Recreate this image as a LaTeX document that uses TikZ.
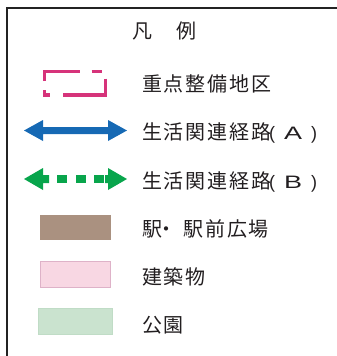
\documentclass[tikz,border=0pt]{standalone}
\usepackage{fontspec}
\usepackage{graphicx}
\newfontfamily\cjk[LetterSpace=9]{Noto Sans CJK JP}
\newfontfamily\cjkplain{Noto Sans CJK JP}
\newfontfamily\lat{Liberation Sans}
\definecolor{framec}{RGB}{35,35,35}
\definecolor{txt}{RGB}{34,30,32}
\definecolor{mag}{RGB}{214,51,122}
\definecolor{blu}{RGB}{22,105,180}
\definecolor{grn}{RGB}{8,165,76}
\definecolor{brn}{RGB}{170,145,128}
\definecolor{pinkf}{RGB}{248,215,227}
\definecolor{pinkd}{RGB}{222,178,200}
\definecolor{lgf}{RGB}{202,227,207}
\definecolor{lgd}{RGB}{192,220,198}
\newcommand{\parlab}[1]{\hspace{-2pt}{\lat\fontsize{18}{18}\selectfont(}\makebox[36pt][c]{\lat\fontsize{18}{18}\selectfont\scalebox{1.5}[1]{#1}}{\lat\fontsize{18}{18}\selectfont)}}
\tikzset{
  lab/.style={anchor=base west, inner sep=0pt, text=txt, font=\cjk\fontsize{20}{20}\selectfont},
  dashrect/.style={draw=mag, line width=3.3pt, line cap=butt, line join=miter},
}
\begin{document}
\begin{tikzpicture}[x=1pt,y=-1pt]
\useasboundingbox (0,0) rectangle (337,356);
\draw[framec, line width=2pt] (6.5,356) -- (6.5,7.5) -- (337,7.5);
% title
\node[anchor=base, inner sep=0pt, text=txt, font=\cjkplain\fontsize{20}{20}\selectfont] (title) at (164.5,38) {凡\hspace{24pt}例};
% 1 dashed rectangle
\draw[dashrect] (44.5,81) -- (44.5,71.5) -- (80,71.5);
\draw[dashrect] (91.7,71.5) -- (101.7,71.5);
\draw[dashrect] (105.7,78.7) -- (105.7,95) -- (62.7,95);
\draw[dashrect] (44.5,90) -- (44.5,95) -- (50,95);
\node[lab] (l1) at (142,91) {重点整備地区};
% 2 blue arrow
\fill[blu] (24,130.5) -- (43,120) -- (43,127) -- (108,127) -- (108,120) -- (127,130.5)
  -- (108,141) -- (108,134) -- (43,134) -- (43,141) -- cycle;
\node[lab] (l2) at (142,139) {生活関連経路\parlab{A}};
% 3 green dashed arrow
\fill[grn] (24,179) -- (43,168) -- (43,175) -- (49,175) -- (49,183) -- (43,183) -- (43,190) -- cycle;
\fill[grn] (57,175) rectangle (67,183);
\fill[grn] (76,175) rectangle (85.5,183);
\fill[grn] (94,175) rectangle (103.5,183);
\fill[grn] (127,179) -- (108,168) -- (108,175) -- (105,175) -- (105,183) -- (108,183) -- (108,190) -- cycle;
\node[lab] (l3) at (142,188) {生活関連経路\parlab{B}};
% 4 station
\fill[brn] (40,215) rectangle (111,240);
\node[lab] (l4) at (142,236) {駅\hspace{-6pt}・\hspace{7.4pt}駅前広場};
% 5 building
\draw[pinkd, fill=pinkf, line width=1pt] (40,261.5) rectangle (110.5,287.5);
\node[lab] (l5) at (142,284) {建築物};
% 6 park
\draw[lgd, fill=lgf, line width=1pt] (38.5,308.5) rectangle (112.5,334.5);
\node[lab] (l6) at (142,332) {公園};
\end{tikzpicture}
\end{document}
